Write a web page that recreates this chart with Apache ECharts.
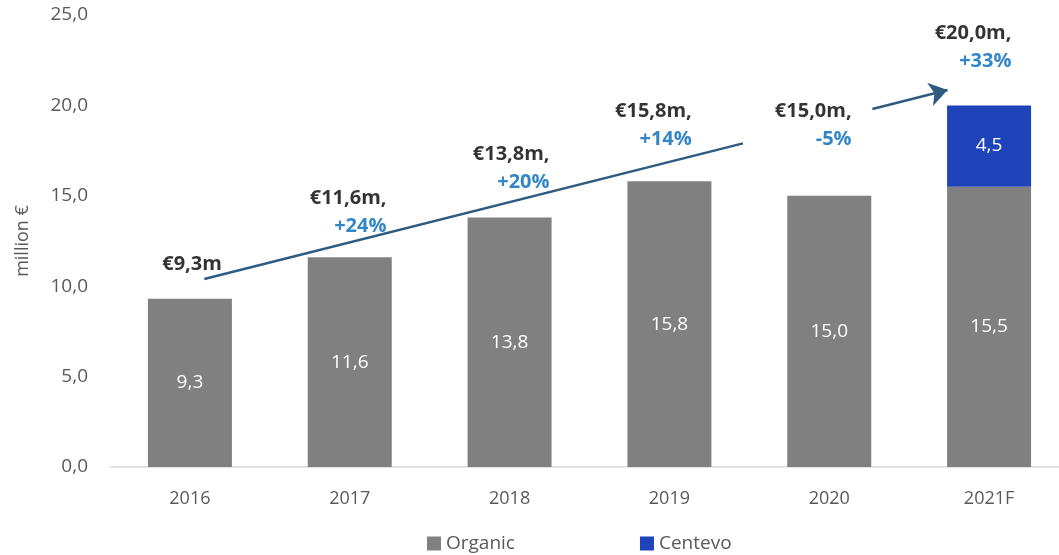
<!DOCTYPE html>
<html>
<head>
<meta charset="utf-8">
<script src="https://cdn.jsdelivr.net/npm/echarts@6/dist/echarts.min.js"></script>
<style>
  html, body { margin: 0; padding: 0; background: #fff; overflow: hidden; }
  /* slightly wider than the window: the plot area runs past the right edge, as in the original */
  #chart { width: 1069px; height: 555px; }
</style>
</head>
<body>
<div id="chart"></div>
<script>
const categories = ['2016', '2017', '2018', '2019', '2020', '2021F']
const organic = [9.3, 11.6, 13.8, 15.8, 15.0, 15.5]
const centevo = [null, null, null, null, null, 4.5]
const yTicks = { min: 0, max: 25, interval: 5 }

// callout texts: [x position (category units), y value, amount, growth]
const callouts = [
  [0.20, 11.2, '€9,3m', ''],
  [1.23, 14.1, '€11,6m,', '+24%'],
  [2.25, 16.5, '€13,8m,', '+20%'],
  [3.14, 18.9, '€15,8m,', '+14%'],
  [4.14, 18.9, '€15,0m,', '-5%'],
  [5.14, 23.2, '€20,0m,', '+33%']
]
// trend arrow, drawn in two pieces around the 2020 callout
const trendLine = [[0.09, 10.4], [3.46, 17.9]]
const trendArrow = [[4.27, 19.8], [4.74, 20.85]]

const fmt = v => v.toFixed(1).replace('.', ',')
const font = 'Open Sans'

const chart = echarts.init(document.getElementById('chart'))

chart.setOption({
  animation: false,
  textStyle: { fontFamily: font },
  grid: { left: 110, top: 15, bottom: 88, right: 0 },
  legend: {
    left: 422,
    top: 529,
    itemWidth: 14,
    itemHeight: 14,
    itemGap: 125,
    icon: 'rect',
    textStyle: { color: '#595959', fontSize: 19, fontFamily: font },
    data: ['Organic', 'Centevo']
  },
  xAxis: [
    {
      type: 'category',
      data: categories,
      axisLine: { lineStyle: { color: '#d9d9d9', width: 1.5 } },
      axisTick: { show: false },
      axisLabel: { color: '#595959', fontSize: 18, margin: 23 }
    },
    { type: 'value', min: -0.5, max: 5.5, show: false }
  ],
  yAxis: {
    type: 'value',
    ...yTicks,
    name: 'million €',
    nameLocation: 'middle',
    nameGap: 78,
    nameTextStyle: { color: '#595959', fontSize: 18 },
    axisLine: { show: false },
    axisTick: { show: false },
    splitLine: { show: false },
    axisLabel: { color: '#595959', fontSize: 19, margin: 22, formatter: fmt }
  },
  series: [
    {
      name: 'Organic',
      type: 'bar',
      stack: 'rev',
      barWidth: 84,
      data: organic,
      itemStyle: { color: '#808080' },
      label: { show: true, position: 'inside', color: '#fff', fontSize: 19, formatter: p => fmt(p.value) }
    },
    {
      name: 'Centevo',
      type: 'bar',
      stack: 'rev',
      barWidth: 84,
      data: centevo,
      itemStyle: { color: '#1f43b9' },
      label: { show: true, position: 'inside', color: '#fff', fontSize: 19, formatter: p => fmt(p.value) }
    },
    {
      type: 'line',
      xAxisIndex: 1,
      data: trendLine,
      symbol: 'none',
      silent: true,
      lineStyle: { color: '#2e5b80', width: 2.5 },
      markLine: {
        silent: true,
        symbol: ['none', 'arrow'],
        symbolSize: [18, 18],
        label: { show: false },
        lineStyle: { color: '#2e5b80', width: 2.5, type: 'solid' },
        data: [[{ coord: trendArrow[0] }, { coord: trendArrow[1] }]]
      }
    },
    {
      type: 'scatter',
      xAxisIndex: 1,
      symbolSize: 0,
      silent: true,
      data: callouts,
      label: {
        show: true,
        position: [0, 0],
        align: 'right',
        verticalAlign: 'middle',
        lineHeight: 28,
        formatter: p => p.value[3] ? `{a|${p.value[2]}}\n{b|${p.value[3]}}` : `{a|${p.value[2]}}`,
        rich: {
          a: { color: '#000', fontWeight: 'bold', fontSize: 20, fontFamily: font, lineHeight: 28, align: 'right' },
          b: { color: '#0068b8', fontWeight: 'bold', fontSize: 20, fontFamily: font, lineHeight: 28, align: 'right' }
        }
      }
    }
  ]
})
</script>
</body>
</html>
